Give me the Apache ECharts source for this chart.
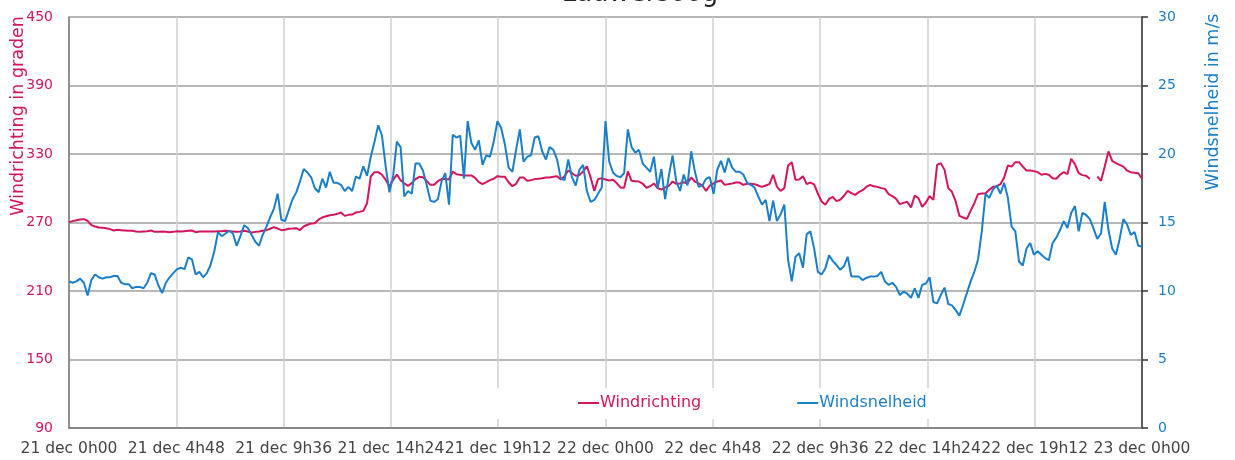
<!DOCTYPE html>
<html>
<head>
<meta charset="utf-8">
<script src="https://cdn.jsdelivr.net/npm/echarts@6/dist/echarts.min.js"></script>
<style>html,body{margin:0;padding:0;background:#fff}#c{width:1235px;height:460px}</style>
</head>
<body>
<div id="c"></div>
<script>
// time step between observations, in hours (10 minutes); first observation 21 dec 0h00
const STEP_H = 1 / 6;
const xTicks = { min: 0, max: 48, interval: 4.8 };

// Windrichting (graden), one value per 10 minutes, null = missing
const windrichting = [
270.3,271.2,272,272.6,272.9,271.5,267.7,266.5,265.6,265.3,
265,264.2,263,263.6,263.3,263,262.7,262.7,262.1,261.8,
262.1,262.4,263,261.8,261.8,262.1,261.8,261.5,261.8,262.4,
262.1,262.4,262.7,263,261.5,262.1,262.1,262.1,262.1,262.1,
262.4,262.4,262.7,262.4,262.1,261.8,262.1,262.7,262.1,261.2,
261.8,262.1,262.7,263.3,264.5,265.9,264.7,263.3,263.6,264.5,
264.7,265,263.3,266.5,268,269.1,269.4,272.6,274.4,275.5,
276.4,276.7,277.6,278.8,275.8,276.7,277,278.8,279.3,280.2,
286.9,310.3,314.1,314.1,311.8,307.4,301.5,307.4,312,307.1,
304.2,302.1,304.5,308,310,309.7,306.5,303,303,306.2,
308,308,307.7,314.7,312.3,311.8,311.2,311.2,311.2,309.1,
305.3,303.6,305.3,307.1,308.3,310.6,310,310,305.3,301.8,
303.9,309.4,309.4,306.5,307.1,308,308.3,308.8,309.4,309.4,
310,310.6,307.7,310.6,315.5,313.2,310.9,311.5,314.7,319.3,
309.7,297.7,308,308.8,307.7,306.8,307.4,304.5,300.7,300.4,
314.7,306.5,306.2,305.9,303.9,300.4,301.8,304.2,300.1,298.9,
300.7,302.1,305.9,303.9,304.2,305.3,304.2,309.4,305.9,304.2,
302.4,297.7,302.4,304.2,305.9,306.8,303,303.6,304.2,305,
305,303,303.9,303.9,303.6,302.4,301.2,302.4,303.6,311.8,
301.5,297.7,300.1,319.9,322.8,307.4,307.7,310.6,303.6,305,
303.3,295.4,288.4,285.5,290.7,292.5,288.7,289.9,293.4,297.7,
295.7,294.2,296.6,298.3,301.2,303,301.8,301.2,300.1,299.5,
294.8,293.1,290.7,286.1,287.2,288.1,283.1,293.7,291.3,283.7,
287.5,293.1,289.9,320.5,322,316.1,300.1,296.9,288.4,275.8,
274.4,273.2,280.2,286.9,294.8,295.4,295.7,298.6,301.2,301.8,
303.6,309.4,319.9,319,322.8,322.8,319,315.5,315.5,315,
314.1,311.8,312.6,311.8,308.8,308.3,311.8,314.1,312.3,325.8,
321.1,313.2,311.5,310.9,308,null,310.3,306.5,319,332.2,
324,322,320.5,319,315.5,314.1,313.5,313.2,308.3
];

// Windsnelheid (m/s), one value per 10 minutes
const windsnelheid = [
10.7,10.6,10.7,10.9,10.6,9.67,10.8,11.2,11.0,10.9,
11.0,11.0,11.1,11.1,10.6,10.5,10.5,10.2,10.3,10.3,
10.2,10.6,11.3,11.2,10.4,9.85,10.6,11.0,11.3,11.6,
11.7,11.6,12.45,12.3,11.2,11.4,11.0,11.3,11.9,12.9,
14.3,14.0,14.2,14.4,14.2,13.3,14.0,14.8,14.6,14.1,
13.6,13.3,14.1,14.7,15.4,16.0,17.1,15.2,15.1,15.9,
16.7,17.2,18.0,18.9,18.65,18.3,17.5,17.2,18.2,17.55,
18.7,17.9,17.9,17.75,17.3,17.6,17.3,18.35,18.2,19.1,
18.4,19.8,20.9,22.1,21.35,19.1,17.2,18.4,20.9,20.5,
16.9,17.3,17.1,19.3,19.3,18.8,17.75,16.6,16.5,16.7,
18.0,18.6,16.3,21.4,21.2,21.35,18.2,22.4,20.8,20.3,
21.0,19.2,19.9,19.8,20.9,22.4,21.9,20.7,19.0,18.7,
20.3,21.8,19.45,19.8,19.9,21.2,21.3,20.2,19.6,20.5,
20.3,19.6,18.2,18.1,19.6,18.3,17.7,18.85,19.2,17.3,
16.5,16.65,17.1,17.55,22.4,19.45,18.65,18.4,18.3,18.6,
21.8,20.5,20.1,20.3,19.3,19.0,18.7,19.8,17.5,18.9,
16.7,18.4,19.9,18.0,17.3,18.5,17.7,20.2,18.7,17.6,
17.7,18.2,18.3,17.1,18.85,19.5,18.65,19.7,19.0,18.7,
18.7,18.5,17.9,17.75,17.55,16.9,16.3,16.65,15.1,16.6,
15.1,15.6,16.3,12.3,10.7,12.5,12.75,11.7,14.15,14.35,
13.1,11.4,11.2,11.65,12.6,12.2,11.9,11.55,11.8,12.5,
11.05,11.05,11.05,10.8,10.95,11.05,11.05,11.1,11.4,10.7,
10.45,10.6,10.3,9.7,9.95,9.8,9.5,10.2,9.5,10.45,
10.55,11.0,9.2,9.1,9.7,10.25,9.05,8.95,8.6,8.2,
9.0,9.85,10.7,11.4,12.3,14.35,17.1,16.8,17.4,17.7,
17.1,17.9,16.8,14.7,14.35,12.15,11.85,13.1,13.5,12.65,
12.9,12.65,12.4,12.25,13.5,13.9,14.45,15.1,14.6,15.7,
16.2,14.35,15.7,15.55,15.25,14.55,13.8,14.2,16.5,14.45,
13.1,12.65,13.8,15.25,14.85,14.1,14.3,13.3,13.25
];

const dirTicks = { min: 90, max: 450, interval: 60 };
const speedTicks = { min: 0, max: 30, interval: 5 };
const days = ['21 dec', '22 dec', '23 dec'];

const MAGENTA = '#d5145e';
const BLUE = '#1a7fc8';
const FONT = 'DejaVu Sans';

function toPairs(arr) { return arr.map((v, i) => [i * STEP_H, v]); }
function fmtX(v) {
  const mins = Math.round(v * 60);
  const d = Math.floor(mins / 1440);
  const rem = mins - d * 1440;
  const h = Math.floor(rem / 60);
  const m = rem - h * 60;
  return days[d] + ' ' + h + 'h' + (m < 10 ? '0' : '') + m;
}

const chart = echarts.init(document.getElementById('c'));
chart.setOption({
  animation: false,
  textStyle: { fontFamily: FONT },
  grid: { left: 69, right: 93, top: 17, bottom: 32, containLabel: false },
  graphic: [
    { type: 'text', x: 640, y: -6, z: 10,
      style: { text: 'Lauwersoog', fill: '#222', fontSize: 26, fontFamily: FONT, textAlign: 'center', textVerticalAlign: 'middle' } },
    { type: 'text', x: 18, y: 116, rotation: Math.PI / 2, z: 10,
      style: { text: 'Windrichting in graden', fill: MAGENTA, fontSize: 17.5, fontFamily: FONT, textAlign: 'center', textVerticalAlign: 'middle' } },
    { type: 'text', x: 1213, y: 102, rotation: Math.PI / 2, z: 10,
      style: { text: 'Windsnelheid in m/s', fill: BLUE, fontSize: 17.5, fontFamily: FONT, textAlign: 'center', textVerticalAlign: 'middle' } }
  ],
  legend: {
    left: 490, top: 388,
    padding: [7, 10, 8, 88],
    backgroundColor: '#ffffff',
    itemWidth: 21, itemHeight: 2, itemGap: 96,
    icon: 'rect',
    textStyle: { fontSize: 16, fontFamily: FONT, padding: [0, 0, 0, -4] },
    data: [
      { name: 'Windrichting', textStyle: { color: MAGENTA } },
      { name: 'Windsnelheid', textStyle: { color: BLUE } }
    ]
  },
  xAxis: {
    type: 'value', min: xTicks.min, max: xTicks.max, interval: xTicks.interval,
    axisLine: { show: true, onZero: false, lineStyle: { color: '#777', width: 1.5 } },
    axisTick: { show: false },
    axisLabel: { formatter: fmtX, color: '#444', fontSize: 15.5, margin: 13, showMinLabel: true, showMaxLabel: true, hideOverlap: false },
    splitLine: { show: true, lineStyle: { color: '#d0d0d0', width: 1.5 } }
  },
  yAxis: [
    {
      type: 'value', position: 'left', min: dirTicks.min, max: dirTicks.max, interval: dirTicks.interval,
      axisLine: { show: true, lineStyle: { color: '#777', width: 1.5 } },
      axisTick: { show: false },
      axisLabel: { color: MAGENTA, fontSize: 14, margin: 16 },
      splitLine: { show: true, lineStyle: { color: '#a0a0a0', width: 1.5 } }
    },
    {
      type: 'value', position: 'right', min: speedTicks.min, max: speedTicks.max, interval: speedTicks.interval,
      axisLine: { show: true, lineStyle: { color: '#333', width: 1.5 } },
      axisTick: { show: true, inside: false, length: 6, lineStyle: { color: '#333', width: 1.5 } },
      axisLabel: { color: BLUE, fontSize: 14, margin: 16 },
      splitLine: { show: false }
    }
  ],
  series: [
    { name: 'Windrichting', type: 'line', yAxisIndex: 0, data: toPairs(windrichting),
      showSymbol: false, symbol: 'none', connectNulls: false,
      lineStyle: { color: MAGENTA, width: 2 }, itemStyle: { color: MAGENTA } },
    { name: 'Windsnelheid', type: 'line', yAxisIndex: 1, data: toPairs(windsnelheid),
      showSymbol: false, symbol: 'none',
      lineStyle: { color: BLUE, width: 2 }, itemStyle: { color: BLUE } }
  ]
});
</script>
</body>
</html>
